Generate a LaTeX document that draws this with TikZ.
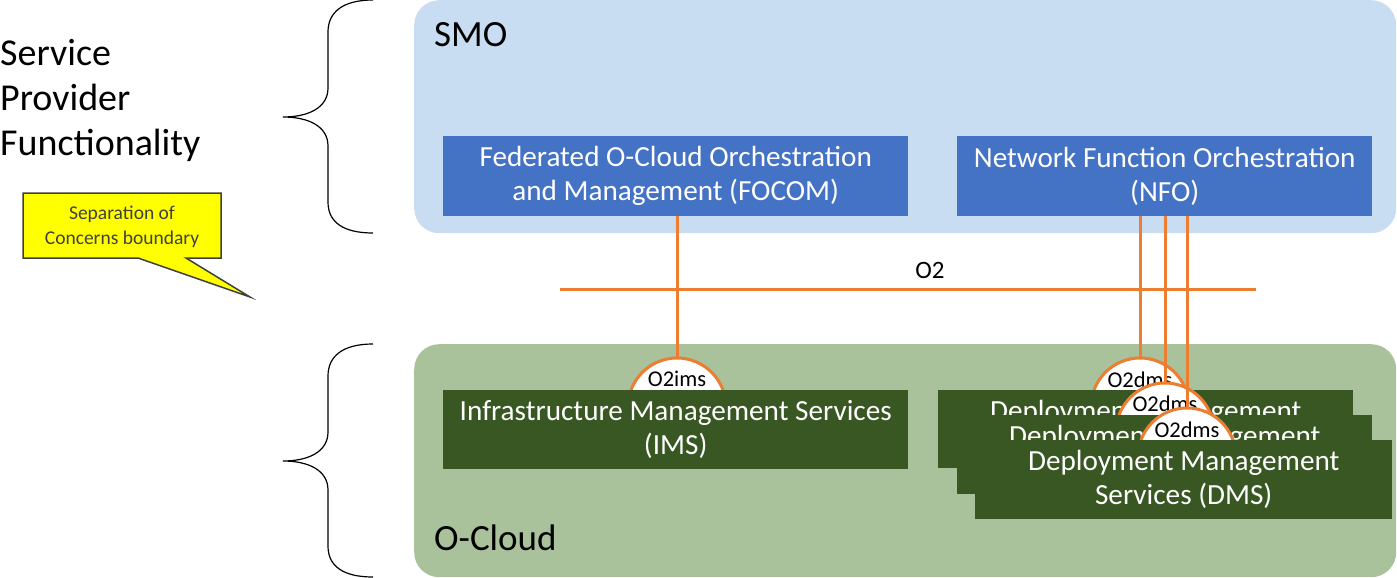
\documentclass[tikz,border=0pt]{standalone}
\usepackage{fontspec}
\setmainfont{Carlito}
\usetikzlibrary{positioning}
\definecolor{smoblue}{RGB}{200,221,241}
\definecolor{boxblue}{RGB}{68,114,196}
\definecolor{cloudgreen}{RGB}{169,194,155}
\definecolor{darkgreen}{RGB}{56,87,35}
\definecolor{ifaceorange}{RGB}{237,125,49}
\definecolor{calloutyellow}{RGB}{255,255,0}
\definecolor{calloutgray}{RGB}{64,64,64}

\begin{document}
\begin{tikzpicture}[x=1pt,y=-1pt,
  domainbox/.style={draw=none,rounded corners=25pt,minimum width=982pt,
    minimum height=233pt,anchor=north west,inner sep=0pt},
  funcbox/.style={anchor=north west,minimum height=80pt,text=white,
    align=center,font=\fontsize{29.2}{34}\selectfont,inner sep=0pt},
  port/.style={circle,fill=white,draw=ifaceorange,line width=3pt,
    minimum size=98pt,inner sep=0pt},
  portlabel/.style={font=\fontsize{22.5}{26}\selectfont,inner sep=0pt},
  iface/.style={draw=ifaceorange,line width=3pt},
  bigtext/.style={font=\fontsize{37}{45}\selectfont,inner sep=0pt,anchor=base west},
  bracket/.style={draw=black,line width=1.2pt}]

\useasboundingbox (0,0) rectangle (1397,578);

% braces on the left
\foreach \top in {0,344}
  \draw[bracket] (373,\top) .. controls (343,\top) and (328,{\top+12}) .. (328,{\top+32})
    -- (328,{\top+88}) .. controls (328,{\top+108}) and (308,{\top+117}) .. (283,{\top+117})
    .. controls (308,{\top+117}) and (328,{\top+126}) .. (328,{\top+146})
    -- (328,{\top+202}) .. controls (328,{\top+222}) and (343,{\top+233}) .. (373,{\top+233});

\node[font=\fontsize{38}{45}\selectfont,inner sep=0pt,anchor=north west,align=left]
  (spf) at (0,39) {Service\\Provider\\Functionality};

% callout
\coordinate (soctip) at (250,297);
\draw[fill=calloutyellow,draw=calloutgray,line width=1.5pt]
  (23,193) -- (221,193) -- (221,258) -- (186,258) -- (soctip) -- (138,258) -- (23,258) -- cycle;
\node[text=calloutgray,align=center,font=\fontsize{19.5}{25}\selectfont,inner sep=0pt]
  (soc) at (122,227) {Separation of\\Concerns boundary};

% SMO
\node[domainbox,fill=smoblue] (smo) at (414,0) {};
\node[bigtext] (smolabel) at (434,47) {SMO};
\node[funcbox,fill=boxblue,minimum width=465pt] (focom) at (443,136)
  {Federated O-Cloud Orchestration\\and Management (FOCOM)};
\node[funcbox,fill=boxblue,minimum width=415pt] (nfo) at (957,136)
  {Network Function Orchestration\\(NFO)};

% O2
\coordinate (o2west) at (560,289);
\coordinate (o2east) at (1256,289);
\draw[iface] (o2west) -- (o2east);
\node[font=\fontsize{25}{30}\selectfont,inner sep=0pt] (o2label) at (930,270) {O2};

% O-Cloud
\node[domainbox,fill=cloudgreen] (ocloud) at (414,344) {};
\node[bigtext] (ocloudlabel) at (434,550) {O-Cloud};

\node[port] (imsport) at (677,407) {};
\node[portlabel] (imsportlabel) at (677,379) {O2ims};
\node[funcbox,fill=darkgreen,minimum width=465pt,minimum height=79pt] (ims) at (443,390)
  {Infrastructure Management Services\\(IMS)};

\node[port] (dmsport1) at (1140,407) {};
\node[portlabel] (dmsportlabel1) at (1140,380) {O2dms};
\node[funcbox,fill=darkgreen,minimum width=415pt,minimum height=78pt] (dms1) at (938,390)
  {Deployment Management\\Services (DMS)};
\node[port] (dmsport2) at (1165,432) {};
\node[portlabel] (dmsportlabel2) at (1165,404) {O2dms};
\node[funcbox,fill=darkgreen,minimum width=415pt,minimum height=79pt] (dms2) at (957,415)
  {Deployment Management\\Services (DMS)};
\node[port] (dmsport3) at (1187,457) {};
\node[portlabel] (dmsportlabel3) at (1187,430) {O2dms};
\node[funcbox,fill=darkgreen,minimum width=417pt,minimum height=79pt] (dms3) at (975,440)
  {Deployment Management\\Services (DMS)};

% interfaces
\draw[iface] (focom.south -| imsport.north) -- (imsport.north);
\draw[iface] (nfo.south -| dmsport1.north) -- (dmsport1.north);
\draw[iface] (nfo.south -| dmsport2.north) -- (dmsport2.north);
\draw[iface] (nfo.south -| dmsport3.north) -- (dmsport3.north);
\end{tikzpicture}
\end{document}
